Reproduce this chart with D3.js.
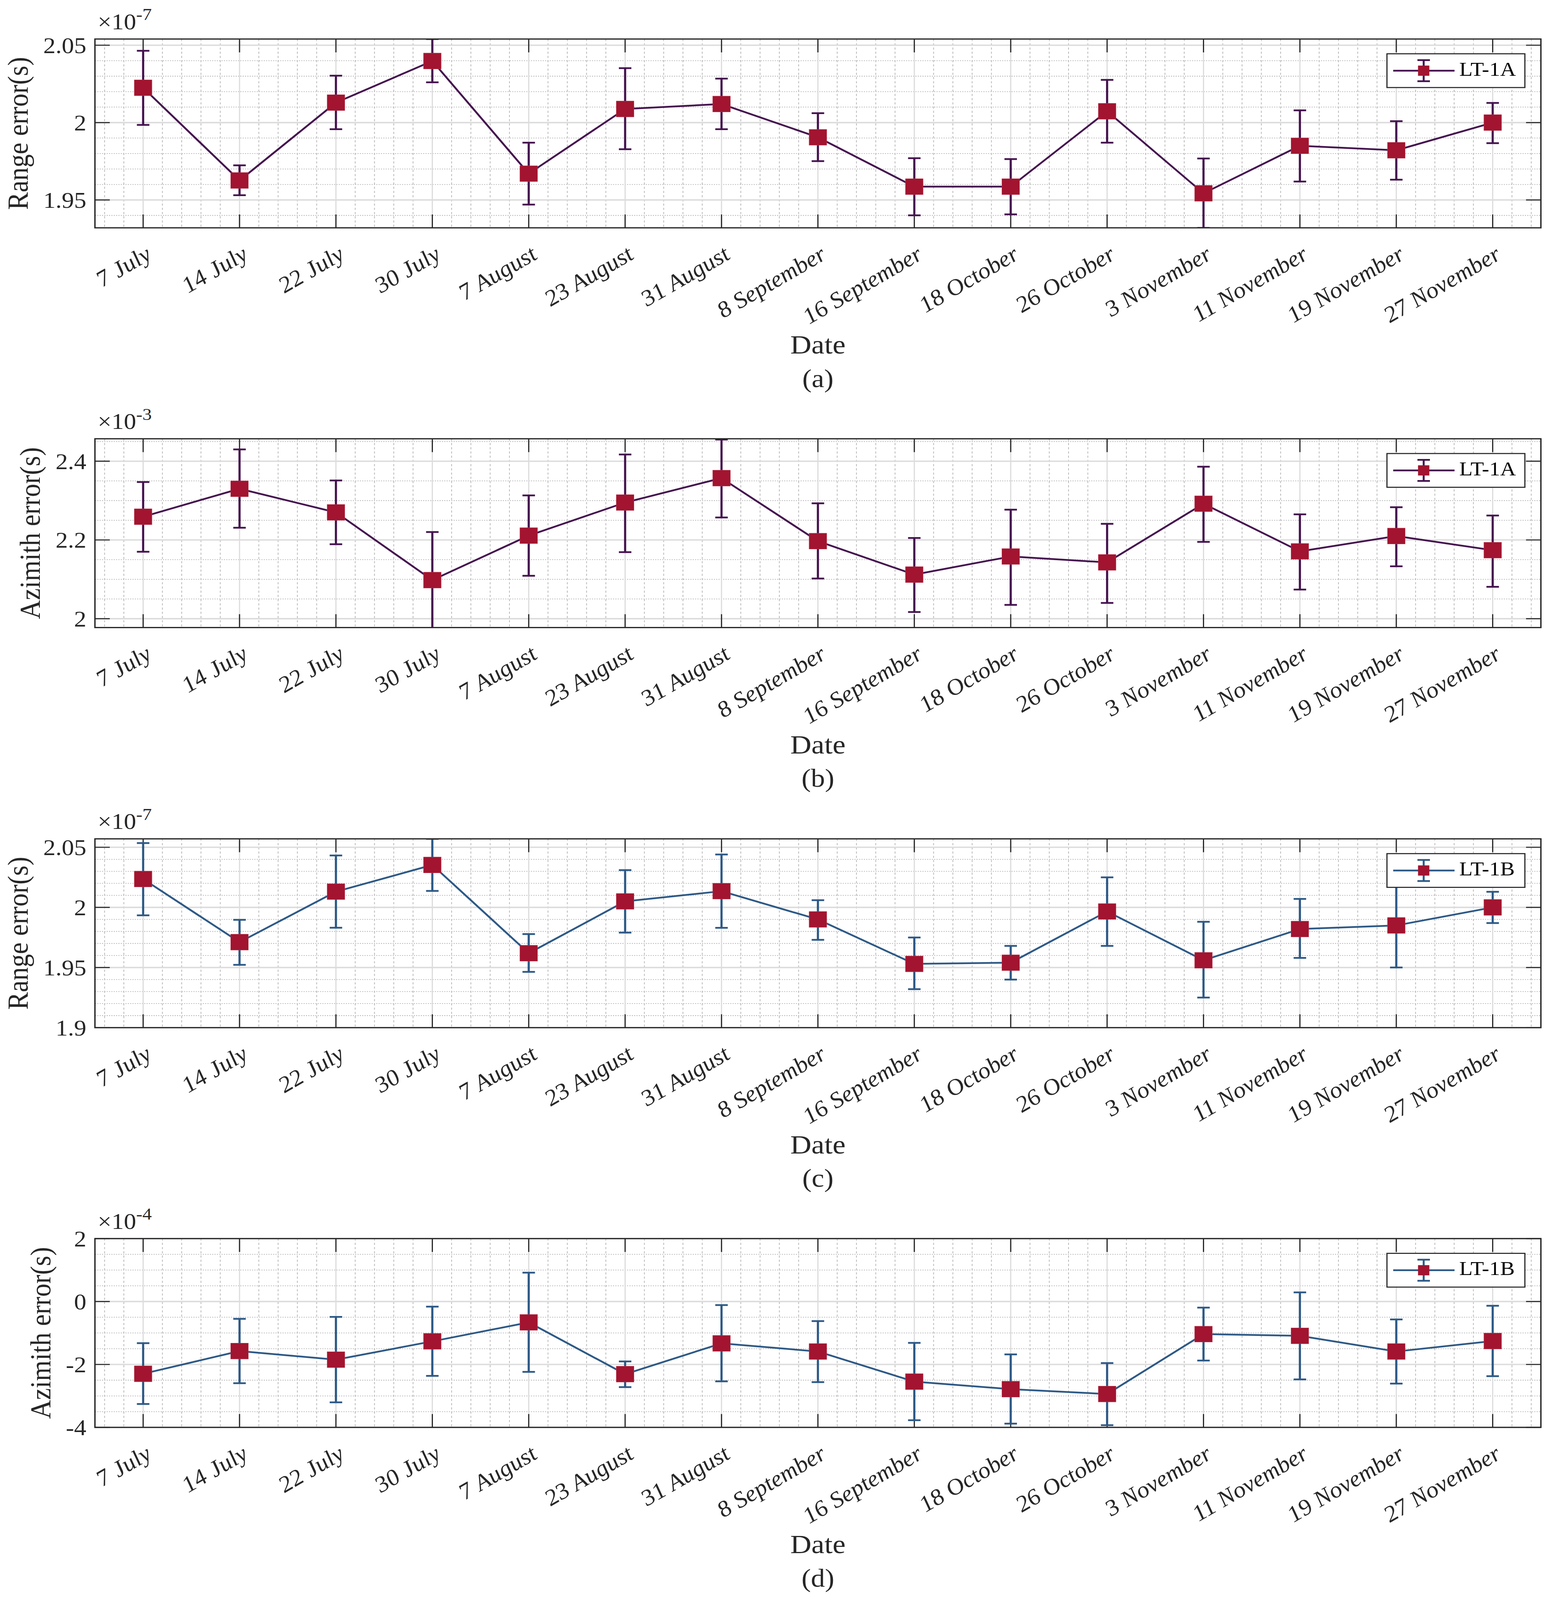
<!DOCTYPE html>
<html><head><meta charset="utf-8">
<script src="https://cdn.jsdelivr.net/npm/d3@7"></script>
<style>html,body{margin:0;padding:0;background:#fff;overflow:hidden;}</style>
</head><body>
<script>
// ---------- DATA ----------
const dates = ["7 July","14 July","22 July","30 July","7 August","23 August","31 August","8 September","16 September","18 October","26 October","3 November","11 November","19 November","27 November"];

// (a) LT-1A range error, x1e-7 s
const rangeA     = [2.0225,1.9626,2.0129,2.0398,1.9670,2.0088,2.0120,1.9905,1.9586,1.9586,2.0073,1.9543,1.9850,1.9821,2.0000];
const rangeALow  = [1.9985,1.9531,1.9957,2.0260,1.9470,1.9828,1.9957,1.9751,1.9401,1.9407,1.9870,1.9319,1.9619,1.9631,1.9867];
const rangeAHigh = [2.0464,1.9724,2.0303,2.0540,1.9870,2.0352,2.0284,2.0061,1.9770,1.9764,2.0276,1.9768,2.0079,2.0009,2.0127];

// (b) LT-1A azimuth error, x1e-3 s
const aziA     = [2.259,2.330,2.270,2.098,2.211,2.295,2.357,2.197,2.112,2.158,2.143,2.292,2.171,2.210,2.174];
const aziALow  = [2.170,2.231,2.189,1.976,2.109,2.169,2.257,2.102,2.017,2.035,2.040,2.195,2.074,2.133,2.081];
const aziAHigh = [2.347,2.430,2.351,2.220,2.313,2.417,2.455,2.293,2.205,2.277,2.241,2.386,2.265,2.283,2.262];

// (c) LT-1B range error, x1e-7 s
const rangeB     = [2.0236,1.9711,2.0131,2.0353,1.9619,2.0050,2.0135,1.9900,1.9530,1.9540,1.9966,1.9560,1.9820,1.9850,2.0000];
const rangeBLow  = [1.9934,1.9522,1.9831,2.0137,1.9464,1.9790,1.9830,1.9730,1.9320,1.9400,1.9680,1.9250,1.9580,1.9500,1.9870];
const rangeBHigh = [2.0535,1.9897,2.0432,2.0570,1.9778,2.0310,2.0440,2.0060,1.9750,1.9680,2.0250,1.9880,2.0070,2.0170,2.0130];

// (d) LT-1B azimuth error, x1e-4 s
const aziB     = [-2.297,-1.575,-1.848,-1.266,-0.663,-2.308,-1.330,-1.589,-2.546,-2.785,-2.940,-1.036,-1.091,-1.589,-1.256];
const aziBLow  = [-3.258,-2.596,-3.203,-2.362,-2.237,-2.720,-2.536,-2.561,-3.771,-3.882,-3.931,-1.877,-2.476,-2.610,-2.372];
const aziBHigh = [-1.325,-0.552,-0.488,-0.164, 0.917,-1.903,-0.114,-0.623,-1.315,-1.679,-1.958,-0.194, 0.289,-0.568,-0.134];

const yTicksA = [1.95, 2, 2.05];
const yTicksB = [2, 2.2, 2.4];
const yTicksC = [1.9, 1.95, 2, 2.05];
const yTicksD = [-4, -2, 0, 2];
const yTickLabelsA = ["1.95","2","2.05"];
const yTickLabelsB = ["2","2.2","2.4"];
const yTickLabelsC = ["1.9","1.95","2","2.05"];
const yTickLabelsD = ["-4","-2","0","2"];

// ---------- LAYOUT ----------
const W = 3975, H = 4551;
const plotL = 243, plotR = 3944, plotH = 537;
const purple = "#45134f", blue = "#2d5986", markerFill = "#a2142f";
const serif = "'Liberation Serif','DejaVu Serif',serif";

const panels = [
  {top:111,  mean:rangeA, lo:rangeALow, hi:rangeAHigh, domain:[1.932,2.054], ticks:yTicksA, tl:yTickLabelsA, minor:0.01, exp:"-7", ylabel:"Range error(s)", color:purple, legend:"LT-1A", cap:"(a)"},
  {top:1248, mean:aziA, lo:aziALow, hi:aziAHigh, domain:[1.9775,2.457], ticks:yTicksB, tl:yTickLabelsB, minor:0.05, exp:"-3", ylabel:"Azimith error(s)", color:purple, legend:"LT-1A", cap:"(b)"},
  {top:2386, mean:rangeB, lo:rangeBLow, hi:rangeBHigh, domain:[1.9,2.057], ticks:yTicksC, tl:yTickLabelsC, minor:0.01, exp:"-7", ylabel:"Range error(s)", color:blue, legend:"LT-1B", cap:"(c)"},
  {top:3523, mean:aziB, lo:aziBLow, hi:aziBHigh, domain:[-4,2], ticks:yTicksD, tl:yTickLabelsD, minor:0.5, exp:"-4", ylabel:"Azimith error(s)", color:blue, legend:"LT-1B", cap:"(d)"}
];

const vw = window.innerWidth || W, vh = window.innerHeight || H;
const svg = d3.select("body").append("svg").attr("width",vw).attr("height",vh)
  .attr("viewBox",`0 0 ${W} ${H}`).attr("preserveAspectRatio","none").style("display","block");
svg.append("rect").attr("width",W).attr("height",H).attr("fill","#fff");

// compensate label angle for any non-uniform viewport scaling so it appears at 30 degrees
const sx = vw / W, sy = vh / H;
const rot = Math.atan(Math.tan(30*Math.PI/180) * sx / sy) * 180 / Math.PI;

const x = d3.scaleLinear().domain([0.5, dates.length+0.5]).range([plotL, plotR]);
const idx = d3.range(1, dates.length+1);

panels.forEach((p, pi) => {
  const top = p.top, bottom = top + plotH;
  const y = d3.scaleLinear().domain(p.domain).range([bottom, top]);
  const g = svg.append("g");
  const clipId = "clip"+pi;
  svg.append("clipPath").attr("id",clipId).append("rect")
    .attr("x",plotL).attr("y",top).attr("width",plotR-plotL).attr("height",plotH);

  // minor grid
  const xMinor = d3.range(0.6, dates.length+0.5, 0.2).filter(v => Math.abs(v-Math.round(v))>1e-6);
  g.append("g").selectAll("line").data(xMinor).join("line")
    .attr("x1",d=>x(d)).attr("x2",d=>x(d)).attr("y1",top).attr("y2",bottom)
    .attr("stroke","#b8b8b8").attr("stroke-width",2).attr("stroke-dasharray","6,6");
  const y0 = Math.ceil(p.domain[0]/p.minor - 1e-6)*p.minor;
  const yMinor = d3.range(y0, p.domain[1]+1e-9, p.minor)
    .filter(v => !p.ticks.some(t => Math.abs(t-v) < p.minor*0.01));
  g.append("g").selectAll("line").data(yMinor).join("line")
    .attr("x1",plotL).attr("x2",plotR).attr("y1",d=>y(d)).attr("y2",d=>y(d))
    .attr("stroke","#b8b8b8").attr("stroke-width",2).attr("stroke-dasharray","3,3");
  // major grid
  g.append("g").selectAll("line").data(idx).join("line")
    .attr("x1",d=>x(d)).attr("x2",d=>x(d)).attr("y1",top).attr("y2",bottom)
    .attr("stroke","#dcdcdc").attr("stroke-width",3);
  g.append("g").selectAll("line").data(p.ticks).join("line")
    .attr("x1",plotL).attr("x2",plotR).attr("y1",d=>y(d)).attr("y2",d=>y(d))
    .attr("stroke","#dcdcdc").attr("stroke-width",4);

  // ticks (inward, both sides)
  const tk = 38;
  const tg = g.append("g").attr("stroke","#262626").attr("stroke-width",3);
  idx.forEach(d => {
    tg.append("line").attr("x1",x(d)).attr("x2",x(d)).attr("y1",bottom).attr("y2",bottom-tk);
    tg.append("line").attr("x1",x(d)).attr("x2",x(d)).attr("y1",top).attr("y2",top+tk);
  });
  p.ticks.forEach(d => {
    tg.append("line").attr("x1",plotL).attr("x2",plotL+tk).attr("y1",y(d)).attr("y2",y(d));
    tg.append("line").attr("x1",plotR).attr("x2",plotR-tk).attr("y1",y(d)).attr("y2",y(d));
  });

  // data
  const dg = g.append("g").attr("clip-path",`url(#${clipId})`);
  const line = d3.line().x((d,i)=>x(i+1)).y(d=>y(d));
  dg.append("path").datum(p.mean).attr("d",line).attr("fill","none")
    .attr("stroke",p.color).attr("stroke-width",5).attr("stroke-linejoin","round");
  const capW = 32;
  p.mean.forEach((m,i) => {
    const cx = x(i+1);
    dg.append("line").attr("x1",cx).attr("x2",cx).attr("y1",y(p.lo[i])).attr("y2",y(p.hi[i]))
      .attr("stroke",p.color).attr("stroke-width",5.5);
    [p.lo[i], p.hi[i]].forEach(v => dg.append("line")
      .attr("x1",cx-capW/2).attr("x2",cx+capW/2).attr("y1",y(v)).attr("y2",y(v))
      .attr("stroke",p.color).attr("stroke-width",5));
  });
  const ms = 45;
  dg.selectAll("rect.m").data(p.mean).join("rect").attr("class","m")
    .attr("x",(d,i)=>x(i+1)-ms/2).attr("y",d=>y(d)-ms/2).attr("width",ms).attr("height",ms)
    .attr("fill",markerFill).attr("stroke","#b8384f").attr("stroke-width",1);

  // axes box
  g.append("rect").attr("x",plotL).attr("y",top).attr("width",plotR-plotL).attr("height",plotH)
    .attr("fill","none").attr("stroke","#262626").attr("stroke-width",3.5);

  // y tick labels
  const ytl = g.append("g");
  p.ticks.forEach((d,k) => {
    ytl.append("text").attr("x",plotL-22).attr("y",y(d)).attr("dy","0.35em")
      .attr("text-anchor","end").attr("font-family",serif).attr("font-size",63)
      .attr("fill","#262626").text(p.tl[k]);
  });
  const bb = ytl.node().getBBox();

  // y label
  const ylx = bb.x - 40;
  g.append("text").attr("transform",`translate(${ylx},${(top+bottom)/2}) rotate(-90)`)
    .attr("text-anchor","middle").attr("font-family",serif).attr("font-size",75)
    .attr("fill","#262626").text(p.ylabel);

  // exponent
  const ex = g.append("text").attr("x",250).attr("y",top-28).attr("font-family",serif)
    .attr("font-size",63).attr("fill","#262626");
  ex.append("tspan").text("\u00d710");
  ex.append("tspan").attr("dy",-26).attr("font-size",48).text(p.exp);

  // x tick labels
  dates.forEach((d,i) => {
    g.append("text").attr("transform",`translate(${x(i+1)+26},${bottom+86}) rotate(${-rot})`)
      .attr("text-anchor","end").attr("font-family",serif).attr("font-style","italic")
      .attr("font-size",64).attr("fill","#262626").text(d);
  });

  // x label and caption
  g.append("text").attr("x",(plotL+plotR)/2).attr("y",bottom+358).attr("text-anchor","middle")
    .attr("font-family",serif).attr("font-size",75).attr("fill","#262626").text("Date");
  g.append("text").attr("x",(plotL+plotR)/2).attr("y",bottom+453).attr("text-anchor","middle")
    .attr("font-family",serif).attr("font-size",72).attr("fill","#262626").text(p.cap);

  // legend
  const lw = 353, lh = 96;
  const lx = plotR - 41 - lw, ly = top + 42;
  const lg = g.append("g");
  lg.append("rect").attr("x",lx).attr("y",ly).attr("width",lw).attr("height",lh)
    .attr("fill","#fff").attr("stroke","#262626").attr("stroke-width",3);
  const cy = ly + lh/2, mx = lx + 94;
  lg.append("line").attr("x1",lx+16).attr("x2",lx+173).attr("y1",cy).attr("y2",cy)
    .attr("stroke",p.color).attr("stroke-width",5);
  lg.append("line").attr("x1",mx).attr("x2",mx).attr("y1",cy-30).attr("y2",cy+30)
    .attr("stroke",p.color).attr("stroke-width",5);
  [cy-30, cy+30].forEach(v => lg.append("line").attr("x1",mx-16).attr("x2",mx+16)
    .attr("y1",v).attr("y2",v).attr("stroke",p.color).attr("stroke-width",5));
  lg.append("rect").attr("x",mx-14.5).attr("y",cy-14.5).attr("width",29).attr("height",29)
    .attr("fill",markerFill);
  lg.append("text").attr("x",lx+185).attr("y",cy+14).attr("font-family",serif)
    .attr("font-size",56).attr("fill","#000").text(p.legend);
});
</script>
</body></html>
